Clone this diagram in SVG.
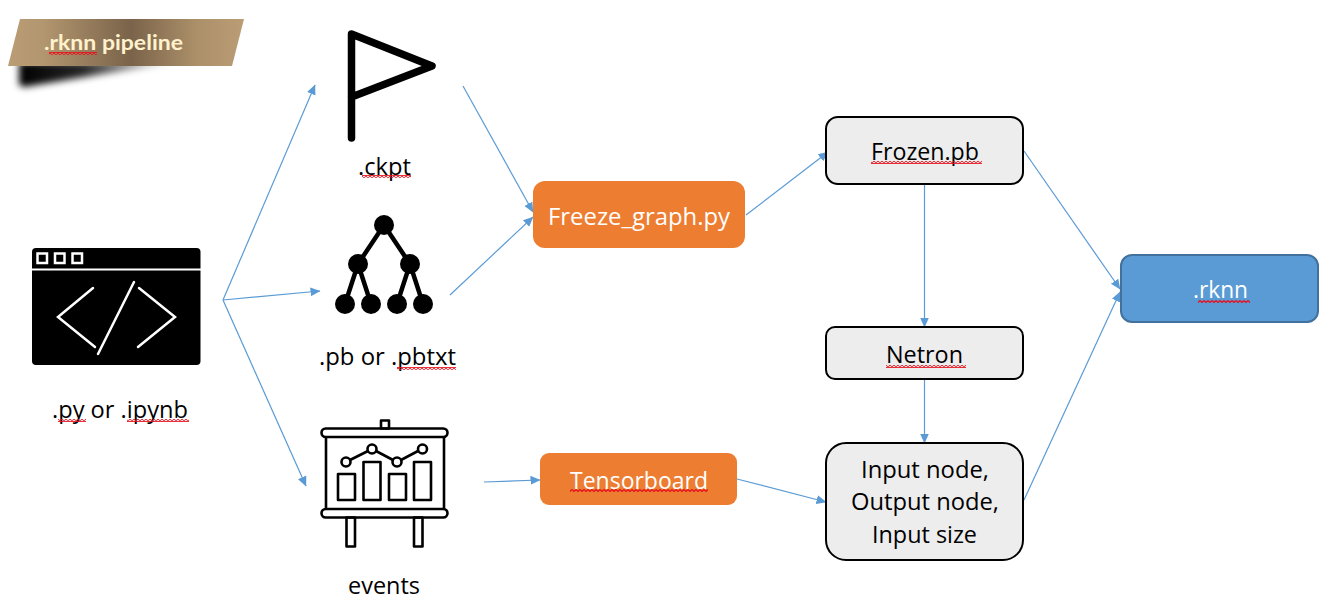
<svg xmlns="http://www.w3.org/2000/svg" width="1326" height="605" viewBox="0 0 1326 605">
<style>
text{font-family:"Open Sans","Noto Sans","Liberation Sans",sans-serif;font-size:23.500px;fill:#000}
.w{fill:#fff}
.conn{fill:none;stroke:#5B9BD5;stroke-width:1.200;marker-end:url(#arr)}
.grey{fill:#EDEDED;stroke:#000;stroke-width:2}
.orange{fill:#ED7D31}
.sq{fill:url(#sq);stroke:none}
.ico{fill:none;stroke:#000;stroke-width:2.600;stroke-linejoin:round}
</style>
<defs>
<marker id="arr" markerUnits="userSpaceOnUse" markerWidth="12" markerHeight="12" refX="9.500" refY="6" orient="auto"><path d="M0 1.500L10 6L0 10.500Z" fill="#5B9BD5"/></marker>
<pattern id="sq" patternUnits="userSpaceOnUse" width="4" height="3"><path d="M0 .5L2 2.500L4 .5" fill="none" stroke="#E8101C" stroke-width="1.300"/></pattern>
<linearGradient id="ban" x1="0" x2="1" y1="0" y2="0"><stop offset="0" stop-color="#BA9D75"/><stop offset=".15" stop-color="#B2966F"/><stop offset=".52" stop-color="#7A634A"/><stop offset=".8" stop-color="#AC9069"/><stop offset="1" stop-color="#BA9D75"/></linearGradient>
<linearGradient id="shd" x1="0" x2="1" y1="0" y2="0"><stop offset="0" stop-color="#000"/><stop offset=".4" stop-color="#000" stop-opacity=".85"/><stop offset="1" stop-color="#000" stop-opacity="0"/></linearGradient>
<filter id="blur" x="-20%" y="-60%" width="140%" height="220%"><feGaussianBlur stdDeviation="3.500"/></filter>
</defs>
<rect width="1326" height="605" fill="#fff"/>
<g id="banner">
<polygon points="19,62 178,62 24,87 19,85" fill="url(#shd)" filter="url(#blur)"/>
<polygon points="20,19 244,19 232,66 8,66" fill="url(#ban)"/>
<text x="44" y="50" textLength="139" lengthAdjust="spacingAndGlyphs" style="font-family:Lato,sans-serif;font-weight:700;font-size:20.500px;fill:#FFF2CC">.rknn pipeline</text>
<rect class="sq" x="49" y="52" width="48" height="3"/>
</g>
<g id="connectors">
<path class="conn" d="M223 300L315 85"/>
<path class="conn" d="M223 300L320 291"/>
<path class="conn" d="M223 300L306 486"/>
<path class="conn" d="M463 86L533 212"/>
<path class="conn" d="M450 295L533 217"/>
<path class="conn" d="M746 215L828 152"/>
<path class="conn" d="M1024 151L1120 289"/>
<path class="conn" d="M924.500 184V327"/>
<path class="conn" d="M924.500 380V443"/>
<path class="conn" d="M484 482L540 480"/>
<path class="conn" d="M737 479L826 502"/>
<path class="conn" d="M1024 500L1120 292"/>
</g>
<g id="code">
<rect x="32" y="248" width="168.500" height="117" rx="4" fill="#000"/>
<path d="M32 269.500H201" stroke="#fff" stroke-width="2"/>
<g fill="none" stroke="#fff" stroke-width="2.500"><rect x="37.500" y="253.500" width="9.500" height="9.500"/><rect x="55" y="253.500" width="9.500" height="9.500"/><rect x="72.500" y="253.500" width="9.500" height="9.500"/></g>
<g fill="none" stroke="#fff" stroke-width="2.500" stroke-linecap="round"><path d="M93 288L58 317L95 347"/><path d="M139 288L175 317L138 347"/><path d="M134 282L98 354"/></g>
<text x="52" y="418" textLength="136" lengthAdjust="spacingAndGlyphs">.py or .ipynb</text>
<rect class="sq" x="58" y="419" width="28" height="3"/><rect class="sq" x="127" y="419" width="62" height="3"/>
</g>
<g id="ckpt">
<path d="M351.500 138V34L432 66L351.500 97" fill="none" stroke="#000" stroke-width="7.500" stroke-linecap="round" stroke-linejoin="round"/>
<text x="358" y="175" textLength="53" lengthAdjust="spacingAndGlyphs">.ckpt</text>
<rect class="sq" x="362" y="175" width="49" height="3"/>
</g>
<g id="pb">
<path d="M384 225L358 264L345 304M358 264L371 304M384 225L410 264L397 304M410 264L423 304" fill="none" stroke="#000" stroke-width="4.500"/>
<g fill="#000"><circle cx="384" cy="225" r="10"/><circle cx="358" cy="264" r="10"/><circle cx="410" cy="264" r="10"/><circle cx="345" cy="304" r="10"/><circle cx="371" cy="304" r="10"/><circle cx="397" cy="304" r="10"/><circle cx="423" cy="304" r="10"/></g>
<text x="319" y="365" textLength="137" lengthAdjust="spacingAndGlyphs">.pb or .pbtxt</text>
<rect class="sq" x="397" y="367" width="59" height="3"/>
</g>
<g id="events">
<g class="ico">
<rect x="381" y="420.500" width="8" height="8"/>
<rect x="321.500" y="428.500" width="126" height="8.500" rx="4.200"/>
<rect x="321.500" y="509" width="126" height="8.500" rx="4.200"/>
<path d="M326 437V509M444 437V509"/>
<rect x="338" y="474" width="17" height="26"/><rect x="363.500" y="462" width="17" height="38"/><rect x="389" y="474" width="17" height="26"/><rect x="414" y="462" width="17" height="38"/>
<path d="M350 460L368 451M376 451L393 460M401 460L418 451"/>
<circle cx="346" cy="462" r="4.500"/><circle cx="372" cy="449" r="4.500"/><circle cx="397" cy="462" r="4.500"/><circle cx="422.500" cy="449" r="4.500"/>
<rect x="346.500" y="517.500" width="8.500" height="29"/><rect x="414" y="517.500" width="8.500" height="29"/>
</g>
<text x="348" y="594" textLength="72" lengthAdjust="spacingAndGlyphs">events</text>
</g>
<g id="freeze">
<rect class="orange" x="533" y="181" width="212" height="67" rx="12"/>
<text class="w" x="548" y="225" textLength="182" lengthAdjust="spacingAndGlyphs">Freeze_graph.py</text>
</g>
<g id="tensorboard">
<rect class="orange" x="540" y="453" width="197" height="52" rx="9"/>
<text class="w" x="570" y="489" textLength="138" lengthAdjust="spacingAndGlyphs">Tensorboard</text>
<rect class="sq" x="570" y="489" width="138" height="3"/>
</g>
<g id="frozen">
<rect class="grey" x="826" y="117" width="197" height="67" rx="12"/>
<text x="871" y="160" textLength="108" lengthAdjust="spacingAndGlyphs">Frozen.pb</text>
<rect class="sq" x="871" y="161" width="111" height="3"/>
</g>
<g id="netron">
<rect class="grey" x="826" y="327" width="197" height="52" rx="9"/>
<text x="886" y="363" textLength="77" lengthAdjust="spacingAndGlyphs">Netron</text>
<rect class="sq" x="886" y="365" width="80" height="3"/>
</g>
<g id="inputs">
<rect class="grey" x="826" y="443" width="197" height="117" rx="20"/>
<text x="861" y="478" textLength="128" lengthAdjust="spacingAndGlyphs">Input node,</text>
<text x="851" y="510" textLength="148" lengthAdjust="spacingAndGlyphs">Output node,</text>
<text x="872" y="543" textLength="105" lengthAdjust="spacingAndGlyphs">Input size</text>
</g>
<g id="rknn">
<rect x="1121" y="255" width="197" height="67" rx="11" fill="#5B9BD5" stroke="#41719C" stroke-width="2"/>
<text class="w" x="1193" y="298" textLength="55" lengthAdjust="spacingAndGlyphs">.rknn</text>
<rect class="sq" x="1198" y="300" width="52" height="3"/>
</g>
</svg>
